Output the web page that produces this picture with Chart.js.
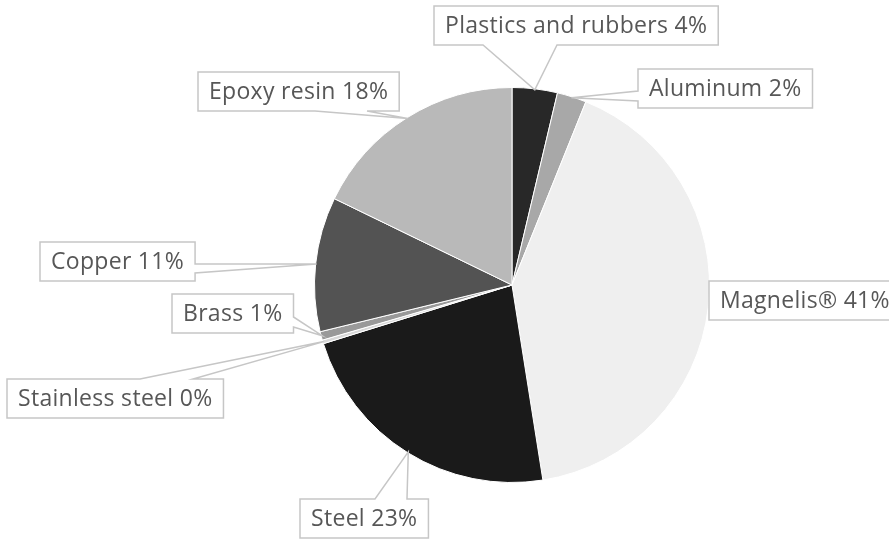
<!DOCTYPE html>
<html>
<head>
<meta charset="utf-8">
<script src="https://cdn.jsdelivr.net/npm/chart.js@4.4.1/dist/chart.umd.min.js"></script>
<style>
  html, body { margin: 0; padding: 0; background: #fff; }
  #wrap { width: 889px; height: 543px; }
</style>
</head>
<body>
<div id="wrap"><canvas id="materialsChart" width="889" height="543"></canvas></div>
<script>
// material shares, clockwise from the top
const materials = ['Plastics and rubbers', 'Aluminum', 'Magnelis®', 'Steel', 'Stainless steel', 'Brass', 'Copper', 'Epoxy resin'];
const shares = [3.7, 2.4, 41.4, 22.7, 0.3, 0.7, 11.0, 17.8];
const sliceColors = ['#282828', '#a8a8a8', '#efefef', '#1a1a1a', '#d8d8d8', '#999999', '#535353', '#b9b9b9'];

// where each callout box sits, and where its pointer leaves the box
const callouts = [
  { x: 434, y: 6, side: 'bottom', b: [49, 123] },
  { x: 638, y: 69, side: 'left', b: [22, 32] },
  { x: 709, y: 281, side: 'none' },
  { x: 300, y: 499, side: 'top', b: [75, 107] },
  { x: 7, y: 379, side: 'top', b: [133, 186] },
  { x: 172, y: 294, side: 'right', b: [23, 33] },
  { x: 40, y: 242, side: 'right', b: [22, 31] },
  { x: 198, y: 72, side: 'bottom', b: [117, 169] }
];

const FONT = '23px "Open Sans"';
const BOX_H = 39;
const PAD = 11;

const calloutPlugin = {
  id: 'callouts',
  afterDatasetsDraw(chart) {
    const ctx = chart.ctx;
    const arcs = chart.getDatasetMeta(0).data;
    ctx.save();
    ctx.font = FONT;
    ctx.letterSpacing = '0.3px';
    arcs.forEach((arc, i) => {
      const p = arc.getProps(['x', 'y', 'startAngle', 'endAngle', 'outerRadius']);
      const mid = (p.startAngle + p.endAngle) / 2;
      const tx = p.x + Math.cos(mid) * (p.outerRadius - 1);
      const ty = p.y + Math.sin(mid) * (p.outerRadius - 1);
      const text = materials[i] + ' ' + Math.round(shares[i]) + '%';
      const c = callouts[i];
      const w = ctx.measureText(text).width + PAD * 2;
      const L = c.x, T = c.y, R = c.x + w, B = c.y + BOX_H;

      ctx.beginPath();
      ctx.moveTo(L, T);
      if (c.side === 'top') {
        ctx.lineTo(L + c.b[0], T);
        ctx.lineTo(tx, ty);
        ctx.lineTo(L + c.b[1], T);
      }
      ctx.lineTo(R, T);
      if (c.side === 'right') {
        ctx.lineTo(R, T + c.b[0]);
        ctx.lineTo(tx, ty);
        ctx.lineTo(R, T + c.b[1]);
      }
      ctx.lineTo(R, B);
      if (c.side === 'bottom') {
        ctx.lineTo(L + c.b[1], B);
        ctx.lineTo(tx, ty);
        ctx.lineTo(L + c.b[0], B);
      }
      ctx.lineTo(L, B);
      if (c.side === 'left') {
        ctx.lineTo(L, T + c.b[1]);
        ctx.lineTo(tx, ty);
        ctx.lineTo(L, T + c.b[0]);
      }
      ctx.closePath();
      ctx.fillStyle = '#ffffff';
      ctx.fill();
      ctx.lineWidth = 1.5;
      ctx.strokeStyle = '#c6c6c6';
      ctx.stroke();

      ctx.fillStyle = '#575757';
      ctx.textBaseline = 'middle';
      ctx.textAlign = 'left';
      ctx.fillText(text, L + PAD, T + BOX_H / 2 + 1);
    });
    ctx.restore();
  }
};

new Chart(document.getElementById('materialsChart'), {
  type: 'pie',
  data: {
    labels: materials,
    datasets: [{
      data: shares,
      backgroundColor: sliceColors,
      borderColor: '#ffffff',
      borderWidth: 1
    }]
  },
  options: {
    responsive: false,
    animation: false,
    layout: { padding: { left: 314, right: 179, top: 87, bottom: 60 } },
    plugins: {
      legend: { display: false },
      tooltip: { enabled: false },
      title: { display: false }
    }
  },
  plugins: [calloutPlugin]
});
</script>
</body>
</html>
